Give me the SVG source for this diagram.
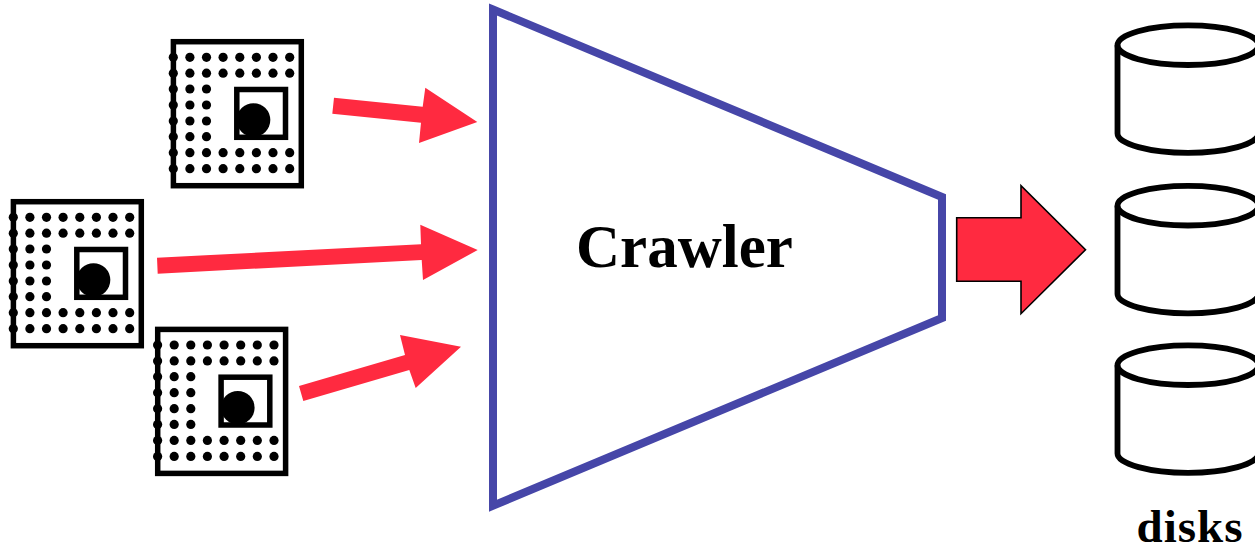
<svg xmlns="http://www.w3.org/2000/svg" width="1255" height="548" viewBox="0 0 1255 548">
<style>
.frame{fill:none;stroke:#000;stroke-width:5.5}
.red{fill:#ff2a40}
.disk{fill:none;stroke:#000;stroke-width:5.8}
.label{font-family:"Liberation Serif","Times New Roman",serif;font-weight:700;fill:#000}
.dots circle{r:4.6px}
</style>
<defs>
<g id="dot-row" class="dots"><circle cx="173.3" cy="0" r="4.6"/><circle cx="189.9" cy="0" r="4.6"/><circle cx="206.5" cy="0" r="4.6"/><circle cx="223.1" cy="0" r="4.6"/><circle cx="239.8" cy="0" r="4.6"/><circle cx="256.4" cy="0" r="4.6"/><circle cx="273" cy="0" r="4.6"/><circle cx="289.7" cy="0" r="4.6"/></g>
<g id="dot-short" class="dots"><circle cx="173.3" cy="0" r="4.6"/><circle cx="189.9" cy="0" r="4.6"/><circle cx="206.5" cy="0" r="4.6"/></g>
<g id="icon">
<rect class="frame" x="173.4" y="41.7" width="127.9" height="144"/>
<use href="#dot-row" y="57.3"/><use href="#dot-row" y="73.2"/>
<use href="#dot-short" y="89"/><use href="#dot-short" y="105"/><use href="#dot-short" y="121"/><use href="#dot-short" y="136.7"/>
<use href="#dot-row" y="152.7"/><use href="#dot-row" y="168.7"/>
<circle cx="253.5" cy="120" r="16.8"/>
<rect class="frame" x="236.8" y="89.5" width="48.7" height="47.8"/>
</g>
<g id="cyl">
<ellipse class="disk" cx="1188" cy="45.2" rx="70.5" ry="19.8"/>
<path class="disk" d="M1117.5 45.2V133.5C1117.5 144 1150 152.8 1188 152.8S1258.5 144 1258.5 133.5"/>
</g>
</defs>
<g id="connectors">
<path class="red" d="M334 97.7L422.7 106.7L425.3 87.7L477.3 122L419 143L421 122.7L332.3 113.7Z"/>
<path class="red" d="M157 257.7L421 244.3L420.3 224.7L477.7 250L423 280L421.7 260L157.7 273.7Z"/>
<path class="red" d="M299 386L405 355L400 335L461 346.7L415.7 388L409.3 370L303.3 401Z"/>
<path class="red" stroke="#000" stroke-width="1.6" d="M956.7 217.7H1021V185.7L1085.5 249.7L1021 313.7V281.3H956.7Z"/>
</g>
<g id="source-top"><use href="#icon"/></g>
<g id="source-middle"><use href="#icon" x="-160" y="160"/></g>
<g id="source-bottom"><use href="#icon" x="-15.7" y="287.7"/></g>
<g id="crawler">
<path fill="none" stroke="#4646a8" stroke-width="8" d="M493 9.5L942 197V318L493 505.7Z"/>
<text class="label" x="576" y="266.7" font-size="61">Crawler</text>
</g>
<g id="disk-top"><use href="#cyl"/></g>
<g id="disk-middle"><use href="#cyl" y="160.5"/></g>
<g id="disk-bottom"><use href="#cyl" y="320"/></g>
<g id="disks-label"><text class="label" x="1136.5" y="542" font-size="47" letter-spacing="1">disks</text></g>
</svg>
